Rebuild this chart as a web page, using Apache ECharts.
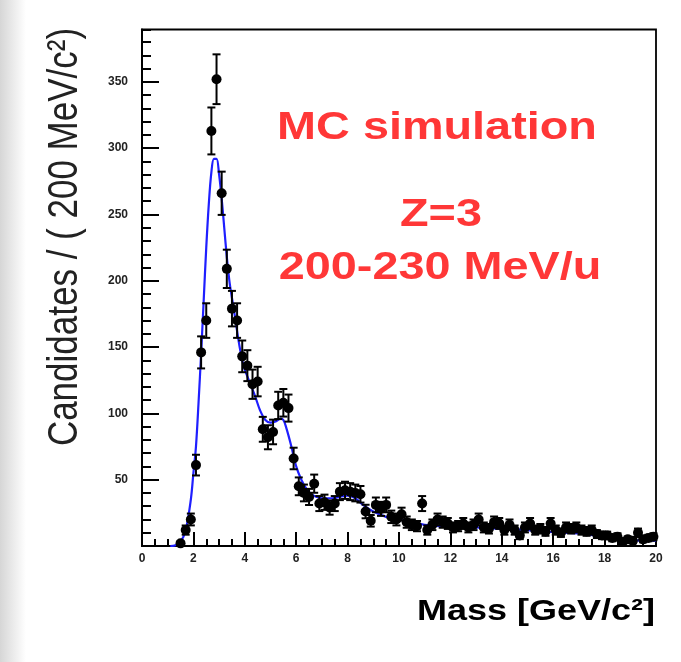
<!DOCTYPE html>
<html>
<head>
<meta charset="utf-8">
<script src="https://cdn.jsdelivr.net/npm/echarts@6/dist/echarts.min.js"></script>
<style>
html,body{margin:0;padding:0;background:#fff;}
#chart{width:681px;height:662px;}
</style>
</head>
<body>
<div id="chart"></div>
<script>
// Bin centres (GeV/c^2), 200 MeV bins
const massBins = [1.5,1.7,1.9,2.1,2.3,2.5,2.7,2.9,3.1,3.3,3.5,3.7,3.9,4.1,4.3,4.5,4.7,4.9,5.1,5.3,5.5,5.7,5.9,
  6.1,6.3,6.5,6.7,6.9,7.1,7.3,7.5,7.7,7.9,8.1,8.3,8.5,8.7,8.9,9.1,9.3,9.5,9.7,9.9,
  10.1,10.3,10.5,10.7,10.9,11.1,11.3,11.5,11.7,11.9,12.1,12.3,12.5,12.7,12.9,13.1,13.3,13.5,13.7,13.9,
  14.1,14.3,14.5,14.7,14.9,15.1,15.3,15.5,15.7,15.9,16.1,16.3,16.5,16.7,16.9,17.1,17.3,17.5,17.7,17.9,
  18.1,18.3,18.5,18.7,18.9,19.1,19.3,19.5,19.7,19.9];
// Candidates per bin (MC)
const candidates = [2,12,20,61,146,170,313,352,266,209,179,170,143,136,122,124,88,82,86,106,108,104,66,
  45,40,37,47,32,33,29,32,41,42,41,40,39,26,19,31,28,31,22,20,
  24,18,16,15,32,12,16,20,18,17,14,15,17,14,16,20,14,13,18,17,
  12,16,12,8,14,17,12,13,11,17,12,10,14,13,14,12,11,12,9,8,
  8,6,7,3,5,4,10,5,6,7];
// Fit curve samples
const fitMass = [1.1,1.3,1.5,1.7,1.9,2.0,2.1,2.2,2.3,2.4,2.5,2.6,2.7,2.8,2.9,3.0,3.1,3.2,3.3,3.4,3.5,3.6,3.7,3.8,3.9,
  4.0,4.2,4.4,4.6,4.8,5.0,5.2,5.4,5.5,5.6,5.8,6.0,6.2,6.4,6.6,6.8,7.0,7.4,7.8,8.0,8.3,8.6,9.0,9.5,
  10.0,10.5,11.0,12.0,13.0,14.0,15.0,16.0,17.0,18.0,19.0,20.0];
const fitValue = [0,0.5,3,12,35,55,75,108,145,185,225,258,282,292,292,280,262,240,218,200,187,175,162,150,140,
  133,123,113,102,95,93,94,96,95,90,76,60,50,43,39,37,36,36,37.5,38,36,31,26,22,
  20,18,16,14.5,14,13,12,10.5,9.5,7,4.5,4];
const xTicks = {min:0, max:20, interval:2};
const yTicks = {min:0, max:389.5, interval:50};

const chart = echarts.init(document.getElementById('chart'), null, {renderer:'canvas'});
const points = massBins.map((m,i)=>[m, candidates[i]]);
const fitLine = fitMass.map((m,i)=>[m, fitValue[i]]);
const tickFont = {fontFamily:'Liberation Sans', fontWeight:'bold', fontSize:12, color:'#222'};

chart.setOption({
  animation:false,
  backgroundColor:'#ffffff',
  grid:{left:142, right:25, top:29.5, bottom:116, show:true, borderColor:'#000', borderWidth:1.8, backgroundColor:'transparent'},
  xAxis:{type:'value', min:xTicks.min, max:xTicks.max, interval:xTicks.interval,
    axisLine:{lineStyle:{color:'#000', width:2}},
    axisTick:{inside:true, length:14, lineStyle:{color:'#000', width:2}},
    minorTick:{show:true, splitNumber:4, length:7, lineStyle:{color:'#000', width:2}},
    splitLine:{show:false}, minorSplitLine:{show:false},
    axisLabel:Object.assign({margin:7}, tickFont)},
  yAxis:[{type:'value', min:yTicks.min, max:yTicks.max, interval:yTicks.interval, position:'left',
    axisLine:{show:true, lineStyle:{color:'#000', width:2}},
    axisTick:{show:true, inside:true, length:17, lineStyle:{color:'#000', width:2}},
    splitLine:{show:false},
    axisLabel:Object.assign({margin:14, showMaxLabel:false, formatter:v=> v===0 ? '' : String(v)}, tickFont)},
   {type:'value', min:yTicks.min, max:yTicks.max, interval:10, position:'left',
    axisLine:{show:false}, axisLabel:{show:false}, splitLine:{show:false},
    axisTick:{show:true, inside:true, length:9, lineStyle:{color:'#000', width:2}}}],
  series:[
    {type:'line', data:fitLine, smooth:0.35, symbol:'none', z:3,
      lineStyle:{color:'#1f1fff', width:2.2}},
    {type:'custom', z:4, data:points,
      renderItem:function(params, api){
        const x = api.value(0), y = api.value(1);
        const e = Math.sqrt(y);
        const top = api.coord([x, y+e]);
        const bot = api.coord([x, Math.max(0, y-e)]);
        const st = {stroke:'#000', lineWidth:2};
        return {type:'group', children:[
          {type:'line', shape:{x1:top[0], y1:top[1], x2:bot[0], y2:bot[1]}, style:st},
          {type:'line', shape:{x1:top[0]-4, y1:top[1], x2:top[0]+4, y2:top[1]}, style:st},
          {type:'line', shape:{x1:bot[0]-4, y1:bot[1], x2:bot[0]+4, y2:bot[1]}, style:st}
        ]};
      }},
    {type:'scatter', data:points, symbol:'circle', symbolSize:10, z:5,
      itemStyle:{color:'#000', opacity:1}}
  ],
  graphic:[
    {type:'rect', left:0, top:0, z:-10, shape:{width:26, height:662},
      style:{fill:new echarts.graphic.LinearGradient(0,0,1,0,[{offset:0,color:'#d6d6d6'},{offset:1,color:'#ffffff'}])}},
    {type:'text', x:65, y:237, rotation:Math.PI/2, scaleY:1.2,
      style:{text:'Candidates / ( 200 MeV/c²)', fontFamily:'Liberation Sans', fontSize:35, fill:'#222', align:'center', verticalAlign:'middle'}},
    {type:'text', x:536, y:612, scaleX:1.2,
      style:{text:'Mass [GeV/c²]', fontFamily:'Liberation Sans', fontWeight:'bold', fontSize:30, fill:'#000', align:'center', verticalAlign:'middle'}},
    {type:'text', x:437, y:128, scaleX:1.2,
      style:{text:'MC simulation', fontFamily:'Liberation Sans', fontWeight:'bold', fontSize:39, fill:'#ff3737', align:'center', verticalAlign:'middle'}},
    {type:'text', x:441, y:215, scaleX:1.2,
      style:{text:'Z=3', fontFamily:'Liberation Sans', fontWeight:'bold', fontSize:39, fill:'#ff3737', align:'center', verticalAlign:'middle'}},
    {type:'text', x:440, y:268, scaleX:1.2,
      style:{text:'200-230 MeV/u', fontFamily:'Liberation Sans', fontWeight:'bold', fontSize:39, fill:'#ff3737', align:'center', verticalAlign:'middle'}}
  ]
});
</script>
</body>
</html>
